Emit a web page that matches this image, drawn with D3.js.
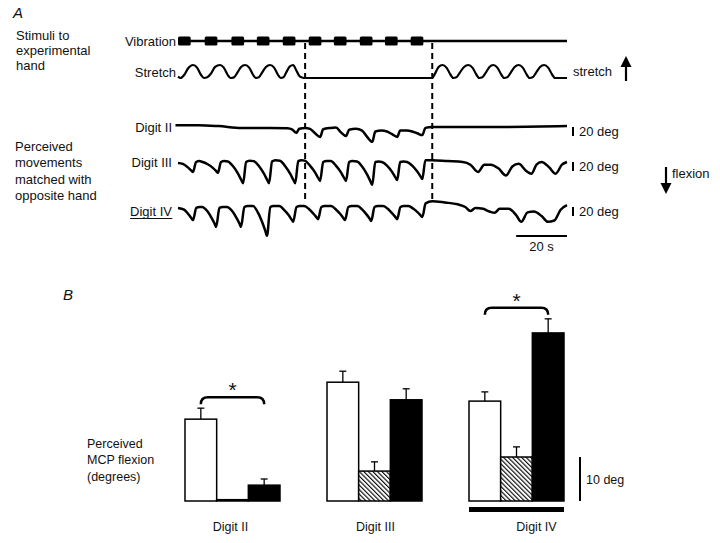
<!DOCTYPE html>
<html>
<head>
<meta charset="utf-8">
<script src="https://cdn.jsdelivr.net/npm/d3@7"></script>
<style>
	body { margin: 0; background: #fff; }
	svg text { font-family: "Liberation Sans", Arial, sans-serif; font-size: 13px; fill: #111; }
	svg text.b { font-size: 12.5px; }
</style>
</head>
<body>
<svg id="chart" width="720" height="543"></svg>
<script>
// ---- panel A, time in s, flexion in deg (positive = down) ----
var vibrationBursts = [[0, 5], [10.5, 15.5], [21, 26], [31, 36], [41.2, 46.2], [51.4, 56.4], [61.3, 66.3], [71.5, 76.5], [81.4, 86.4], [91.5, 96.5]];

// stretch, 0 = rest, 1 = full stretch
var stretchTrace = [[0, 0.1], [1, 0], [2.5, 0.25], [4, 0.75], [5.9, 1], [7.5, 0.8], [9, 0.25], [10.2, 0], [11.5, 0.05], [13, 0.35], [14.6, 0.85], [16.5, 1], [18, 0.8], [19.5, 0.25], [20.6, 0], [22, 0.05], [23.3, 0.4], [24.8, 0.85], [26.4, 1], [28, 0.8], [29.5, 0.25], [30.6, 0], [31.8, 0.05], [33, 0.4], [34.6, 0.85], [36.2, 1], [37.8, 0.8], [39.3, 0.25], [40.4, 0], [41.5, 0.05], [42.5, 0.4], [44, 0.9], [45.3, 1], [46.5, 0.6], [48, 0.1], [49.5, 0], [100, 0], [101, 0.3], [102.5, 0.85], [104, 1], [105.6, 0.8], [107.2, 0.25], [108.3, 0], [109.5, 0.05], [110.8, 0.4], [112.5, 0.85], [114.2, 1], [115.8, 0.8], [117.4, 0.25], [118.5, 0], [119.7, 0.05], [121, 0.4], [122.5, 0.85], [124, 1], [125.6, 0.8], [127.2, 0.25], [128.3, 0], [129.5, 0.05], [130.8, 0.4], [132.4, 0.85], [134, 1], [135.6, 0.8], [137.2, 0.25], [138.3, 0], [139.5, 0.05], [140.8, 0.4], [142.4, 0.85], [144, 1], [145.6, 0.8], [147.2, 0.25], [148.3, 0], [150, 0], [153, 0]];

var digitIITrace = [[-1, -4], [8, -4], [16, -2], [25, 2], [36, 2], [43, 3], [45, 6], [46.5, 13], [47.7, 4], [50, 2], [51.9, 4], [53.9, 14], [55.9, 22], [57.1, 5], [60, 2], [62.1, 1], [64.1, 12], [66.1, 20], [67.3, 6], [70, 4], [72.4, 8], [74.4, 22], [76.4, 33], [77.6, 10], [80, 8], [82.2, 10], [84.2, 16], [86.2, 22], [87.4, 8], [90, 8], [92.1, 10], [94.1, 14], [96.1, 18], [97.3, 2], [100, 0], [127, 0], [153, -2]];

var digitIIITrace = [[0, 2], [1.9, 4], [3.9, 12], [5.2, 19], [5.9, 22], [7.1, 0], [8.4, -2],
	[9.7, 0], [11.7, 5], [13.7, 13], [15, 20], [15.7, 24], [16.9, 0], [18.2, -2],
	[19.6, -1], [21.6, 9], [23.6, 26], [24.9, 40], [25.6, 47], [26.8, 0], [28.1, -3],
	[29.8, -2], [31.8, 9], [33.8, 26], [35.1, 40], [35.8, 47], [37, -1], [38.3, -4],
	[40.1, -3], [42.1, 9], [44.1, 26], [45.4, 40], [46.1, 47], [47.3, -2], [48.6, -4],
	[49.9, -3], [51.9, 8], [53.9, 23], [55.2, 36], [55.9, 42], [57.1, 0], [58.4, -2],
	[60.1, -2], [62.1, 8], [64.1, 23], [65.4, 36], [66.1, 42], [67.3, 0], [68.6, -2],
	[70.4, -1], [72.4, 10], [74.4, 28], [75.7, 43], [76.4, 51], [77.6, 0], [78.9, -1],
	[80.2, 0], [82.2, 8], [84.2, 22], [85.5, 34], [86.2, 40], [87.4, 0], [88.7, -1],
	[90.1, 0], [92.1, 8], [94.1, 21], [95.4, 32], [96.1, 38], [97.3, -4], [100, -4],
	[106, -2], [112, 0], [115, 6], [118, 22], [120.5, 6], [123, 6], [126, 14], [129, 30], [131.5, 10], [134, 4], [137, 20], [139, 26], [141, 6], [143, 0], [146, 12], [148.5, 26], [151, 6], [153, 0]];

var digitIVTrace = [[0, 2], [2.4, 6], [4.1, 16], [5.3, 25], [5.9, 29], [7.2, 2], [8.5, 0],
	[9.5, 0], [11.5, 9], [13.2, 24], [14.4, 37], [15, 44], [16.3, 2], [17.6, 0],
	[19.3, 0], [21.3, 9], [23, 24], [24.2, 37], [24.8, 44], [26.1, 0], [27.4, -2],
	[29.5, -2], [31.5, 13], [33.2, 35], [34.4, 54], [35, 64], [36.3, 0], [37.6, -2],
	[39.8, -2], [41.8, 7], [43.5, 18], [44.7, 28], [45.3, 33], [46.6, 0], [47.9, -2],
	[49.6, -2], [51.6, 5], [53.3, 15], [54.5, 23], [55.1, 27], [56.4, 0], [57.7, -2],
	[60.2, -2], [62.2, 6], [63.9, 16], [65.1, 25], [65.7, 29], [67, 0], [68.3, -2],
	[70.5, -2], [72.5, 6], [74.2, 17], [75.4, 26], [76, 31], [77.3, 0], [78.6, -2],
	[80.7, -2], [82.7, 5], [84.4, 15], [85.6, 23], [86.2, 27], [87.5, 0], [88.8, -2],
	[90.6, -2], [92.6, 4], [94.3, 12], [95.5, 19], [96.1, 22], [97.4, -8], [100, -13],
	[105, -10], [110, -6], [113, 0], [115, 9], [117, 2], [120, 4], [122.5, 10], [124.5, 13], [126.5, 4], [130, 4], [133, 18], [135, 33], [137.5, 12], [140, 10], [143, 20], [145.5, 33], [148, 30], [150.5, 6], [153, -4]];

var phaseMarks = [50, 100];

// ---- panel B, perceived MCP flexion (deg) ----
var digits = ["Digit II", "Digit III", "Digit IV"];
var conditions = ["open", "hatched", "filled"];
var openMeans = [18.6, 27.0, 22.7];
var openErrors = [2.5, 2.5, 2.1];
var hatchedMeans = [0.3, 6.8, 10.0];
var hatchedErrors = [0, 2.1, 2.3];
var filledMeans = [3.6, 23.0, 38.2];
var filledErrors = [1.4, 2.5, 3.2];
var significant = ["Digit II", "Digit IV"];

var svg = d3.select("#chart");

function text(x, y, str, anchor) {
	return svg.append("text").attr("x", x).attr("y", y).attr("text-anchor", anchor || "start").text(str);
}

function arrow(x, y1, y2) {
	// y1 = tail, y2 = tip
	var dir = y2 < y1 ? 1 : -1;
	svg.append("line").attr("x1", x).attr("x2", x).attr("y1", y1).attr("y2", y2 + dir * 9)
		.attr("stroke", "#000").attr("stroke-width", 2.2);
	svg.append("path")
		.attr("d", "M" + (x - 5.5) + "," + (y2 + dir * 11) + "L" + x + "," + y2 + "L" + (x + 5.5) + "," + (y2 + dir * 11) + "Z")
		.attr("fill", "#000");
}

function drawPanelA() {
	var x = d3.scaleLinear().domain([0, 153]).range([178, 567]);

	text(13, 18, "A").style("font-style", "italic").style("font-size", "15px");
	text(16, 40, "Stimuli to");
	text(16, 55, "experimental");
	text(16, 70, "hand");

	// vibration
	var vibY = 41;
	text(176, 46, "Vibration", "end");
	svg.append("line").attr("x1", x(0)).attr("x2", x(153)).attr("y1", vibY).attr("y2", vibY)
		.attr("stroke", "#000").attr("stroke-width", 2.5);
	svg.selectAll("rect.burst").data(vibrationBursts).enter().append("rect")
		.attr("class", "burst")
		.attr("x", function (d) { return x(d[0]); })
		.attr("width", function (d) { return x(d[1]) - x(d[0]); })
		.attr("y", vibY - 4.5).attr("height", 9).attr("rx", 1.5)
		.attr("fill", "#000");

	// stretch
	var ys = d3.scaleLinear().domain([0, 1]).range([78, 65]);
	text(176, 77, "Stretch", "end");
	svg.append("path").datum(stretchTrace)
		.attr("d", d3.line().x(function (d) { return x(d[0]); }).y(function (d) { return ys(d[1]); }).curve(d3.curveMonotoneX))
		.attr("fill", "none").attr("stroke", "#000").attr("stroke-width", 2.2);
	text(573, 76, "stretch");
	arrow(626, 81, 56);

	// dashed phase markers
	svg.selectAll("line.phase").data(phaseMarks).enter().append("line")
		.attr("class", "phase")
		.attr("x1", function (d) { return x(d); }).attr("x2", function (d) { return x(d); })
		.attr("y1", vibY + 2).attr("y2", 199)
		.attr("stroke", "#000").attr("stroke-width", 2).attr("stroke-dasharray", "6,4");

	text(15, 151, "Perceived");
	text(15, 167, "movements");
	text(15, 184, "matched with");
	text(15, 200, "opposite hand");

	var rows = [
		{ name: "Digit II", trace: digitIITrace, base: 127 },
		{ name: "Digit III", trace: digitIIITrace, base: 162 },
		{ name: "Digit IV", trace: digitIVTrace, base: 207 }
	];
	rows.forEach(function (row, i) {
		var y = d3.scaleLinear().domain([0, 20]).range([row.base, row.base + 9]);
		var lbl = text(172, row.base + 5 + (i === 2 ? 4 : 0), row.name, "end");
		if (i === 2) {
			var bb = lbl.node().getBBox();
			svg.append("line").attr("x1", bb.x).attr("x2", bb.x + bb.width)
				.attr("y1", bb.y + bb.height - 0.5).attr("y2", bb.y + bb.height - 0.5)
				.attr("stroke", "#111").attr("stroke-width", 1);
		}
		svg.append("path").datum(row.trace)
			.attr("d", d3.line().x(function (d) { return x(d[0]); }).y(function (d) { return y(d[1]); }).curve(d3.curveMonotoneX))
			.attr("fill", "none").attr("stroke", "#000").attr("stroke-width", 2.5).attr("stroke-linejoin", "round");
		// 20 deg calibration
		svg.append("line").attr("x1", 573).attr("x2", 573).attr("y1", y(0)).attr("y2", y(20))
			.attr("stroke", "#000").attr("stroke-width", 2);
		text(579, y(20), "20 deg");
	});

	arrow(666, 167, 194);
	text(672, 178, "flexion");

	// time calibration
	svg.append("line").attr("x1", x(133)).attr("x2", x(153)).attr("y1", 236).attr("y2", 236)
		.attr("stroke", "#000").attr("stroke-width", 2);
	text((x(133) + x(153)) / 2, 251, "20 s", "middle");
}

function drawPanelB() {
	var defs = svg.append("defs");
	var pat = defs.append("pattern").attr("id", "hatch").attr("patternUnits", "userSpaceOnUse")
		.attr("width", 3.2).attr("height", 3.2).attr("patternTransform", "rotate(-45)");
	pat.append("rect").attr("width", 3.2).attr("height", 3.2).attr("fill", "#fff");
	pat.append("line").attr("x1", 0.6).attr("x2", 0.6).attr("y1", 0).attr("y2", 3.2)
		.attr("stroke", "#000").attr("stroke-width", 1.1);

	var x0 = d3.scaleBand().domain(digits).range([185, 564]).paddingInner(0.331).paddingOuter(0);
	var x1 = d3.scaleBand().domain(conditions).range([0, x0.bandwidth()]);
	var y = d3.scaleLinear().domain([0, 10]).range([501, 457]);

	var fills = { open: "#fff", hatched: "url(#hatch)", filled: "#000" };
	var means = { open: openMeans, hatched: hatchedMeans, filled: filledMeans };
	var errs = { open: openErrors, hatched: hatchedErrors, filled: filledErrors };

	text(63, 300, "B").style("font-style", "italic").style("font-size", "15px");
	text(87, 448, "Perceived").attr("class", "b");
	text(87, 464, "MCP flexion").attr("class", "b");
	text(87, 481, "(degrees)").attr("class", "b");

	var bars = [];
	digits.forEach(function (dg, i) {
		conditions.forEach(function (c) {
			bars.push({ digit: dg, cond: c, mean: means[c][i], err: errs[c][i] });
		});
	});

	// error bars first, bars over them
	var eb = svg.selectAll("g.err").data(bars.filter(function (d) { return d.err > 0; })).enter().append("g").attr("class", "err");
	eb.append("line")
		.attr("x1", function (d) { return x0(d.digit) + x1(d.cond) + x1.bandwidth() / 2; })
		.attr("x2", function (d) { return x0(d.digit) + x1(d.cond) + x1.bandwidth() / 2; })
		.attr("y1", function (d) { return y(d.mean); })
		.attr("y2", function (d) { return y(d.mean + d.err); })
		.attr("stroke", "#000").attr("stroke-width", 1.3);
	eb.append("line")
		.attr("x1", function (d) { return x0(d.digit) + x1(d.cond) + x1.bandwidth() / 2 - 3.5; })
		.attr("x2", function (d) { return x0(d.digit) + x1(d.cond) + x1.bandwidth() / 2 + 3.5; })
		.attr("y1", function (d) { return y(d.mean + d.err); })
		.attr("y2", function (d) { return y(d.mean + d.err); })
		.attr("stroke", "#000").attr("stroke-width", 1.3);

	svg.selectAll("rect.bar").data(bars).enter().append("rect")
		.attr("class", "bar")
		.attr("x", function (d) { return x0(d.digit) + x1(d.cond); })
		.attr("width", x1.bandwidth())
		.attr("y", function (d) { return y(d.mean); })
		.attr("height", function (d) { return y(0) - y(d.mean); })
		.attr("fill", function (d) { return fills[d.cond]; })
		.attr("stroke", "#000").attr("stroke-width", 1.5);

	// significance braces
	significant.forEach(function (dg) {
		var i = digits.indexOf(dg);
		var xa = x0(dg) + x1("open") + x1.bandwidth() / 2;
		var xb = x0(dg) + x1("filled") + x1.bandwidth() / 2;
		var top = Math.min(y(openMeans[i] + openErrors[i]), y(filledMeans[i] + filledErrors[i])) - 11;
		svg.append("path")
			.attr("d", "M" + xa + "," + (top + 7) + "Q" + xa + "," + top + " " + (xa + 7) + "," + top +
				"L" + (xb - 7) + "," + top + "Q" + xb + "," + top + " " + xb + "," + (top + 7))
			.attr("fill", "none").attr("stroke", "#000").attr("stroke-width", 2.5);
		text((xa + xb) / 2, top, "*", "middle").style("font-size", "21px");
	});

	// bar under Digit IV
	svg.append("rect").attr("x", x0("Digit IV")).attr("width", x0.bandwidth())
		.attr("y", 507).attr("height", 5).attr("fill", "#000");

	var nudge = { "Digit II": -2, "Digit III": 1, "Digit IV": 20 };
	digits.forEach(function (dg) {
		text(x0(dg) + x0.bandwidth() / 2 + nudge[dg], 531, dg, "middle").attr("class", "b");
	});

	// 10 deg calibration
	svg.append("line").attr("x1", 580).attr("x2", 580).attr("y1", y(0)).attr("y2", y(10))
		.attr("stroke", "#000").attr("stroke-width", 2);
	text(586, 484, "10 deg").attr("class", "b");
}

drawPanelA();
drawPanelB();
</script>
</body>
</html>
